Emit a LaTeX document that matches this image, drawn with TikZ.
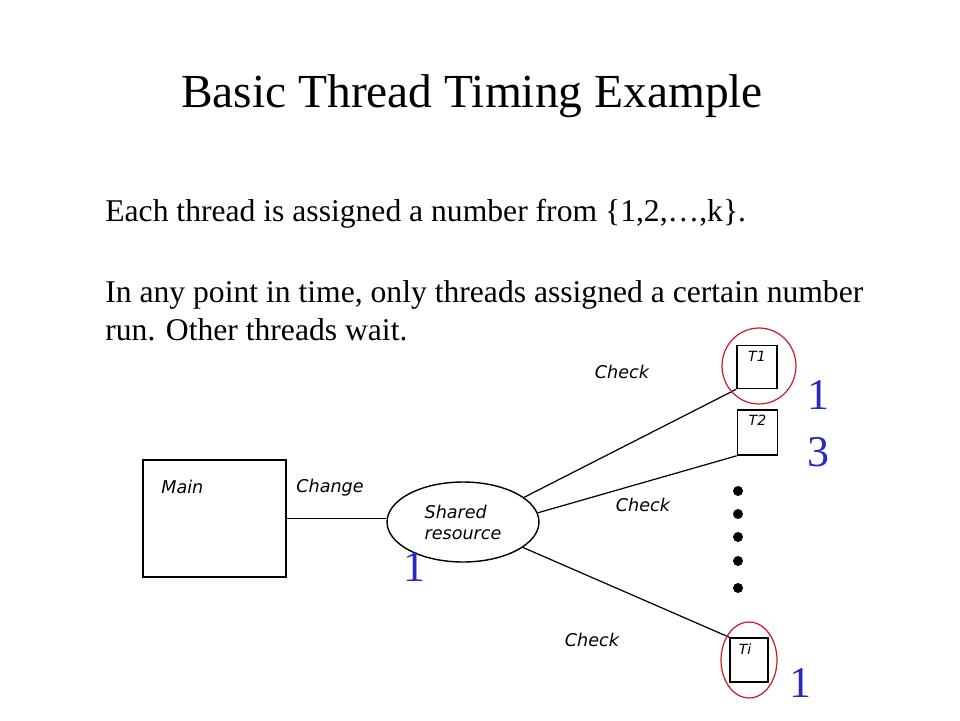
\documentclass[tikz,border=0pt]{standalone}
\usepackage{fontspec}
\setmainfont{Liberation Serif}
\newfontfamily\diagfont{DejaVu Sans}
\usetikzlibrary{shapes.geometric}
\begin{document}
\begin{tikzpicture}[x=0.02cm,y=-0.02cm,
  diaglabel/.style={font=\diagfont\itshape\fontsize{10}{12}\selectfont},
  threadbox/.style={draw, line width=0.9pt, inner sep=0pt, minimum width=0.8cm, minimum height=0.86cm},
  boxlabel/.style={diaglabel, font=\diagfont\itshape\fontsize{8}{9}\selectfont, anchor=north},
  bluenum/.style={text=NumBlue, font=\fontsize{25}{28}\selectfont},
  pick/.style={draw=PickRed, line width=0.7pt}]
\definecolor{NumBlue}{RGB}{40,40,200}
\definecolor{PickRed}{RGB}{200,30,40}
\useasboundingbox (0,0) rectangle (960,720);
% title and text
\node[font=\fontsize{27}{32}\selectfont, anchor=base] (title) at (472,107) {Basic Thread Timing Example};
\node[font=\fontsize{18}{21}\selectfont, anchor=base west, inner sep=0pt] (line1) at (105,221) {Each thread is assigned a number from \{1,2,\dots,k\}.};
\node[font=\fontsize{18}{21.5}\selectfont, anchor=base west, inner sep=0pt, align=left] (line2) at (105,340) {In any point in time, only threads assigned a certain number\\run. Other threads wait.};
% main and shared resource
\node[draw, line width=0.9pt, minimum width=2.86cm, minimum height=2.34cm, inner sep=0pt,
  label={[diaglabel, anchor=north west, xshift=0.26cm, yshift=-0.3cm]north west:Main}] (main) at (214.5,518.5) {};
\node[draw, ellipse, line width=0.8pt, minimum width=3.04cm, minimum height=1.6cm, inner sep=0pt,
  diaglabel, align=left] (shared) at (463,522) {Shared\\resource};
% threads
\node[threadbox, label={[boxlabel]north:T1}] (t1) at (757,367) {};
\node[threadbox, minimum height=0.9cm, label={[boxlabel]north:T2}] (t2) at (757.5,432.5) {};
\node[threadbox, minimum width=0.76cm, minimum height=0.88cm, label={[boxlabel, xshift=-0.08cm]north:Ti}] (ti) at (749,660) {};
\foreach \y [count=\i] in {491,514,537,561,588}
  \fill (738,\y) circle (0.1cm) node (dot\i) {};
% connectors
\draw[line width=0.9pt] (main.east) -- (shared.west |- main.east);
\draw[line width=0.7pt] (shared.22) -- (t1.south west);
\draw[line width=0.7pt] (shared.7) -- (t2.south west);
\draw[line width=0.7pt] (shared.-23) -- (ti.north west);
\node[diaglabel] (change) at (330,488) {Change};
\node[diaglabel] (check1) at (622,372) {Check};
\node[diaglabel] (check2) at (643,505) {Check};
\node[diaglabel] (check3) at (592,640) {Check};
% picked threads
\draw[pick] (759,366) ellipse (0.74cm and 0.76cm);
\draw[pick] (749,660) ellipse (0.56cm and 0.76cm);
\node[bluenum] (numt1) at (818,395) {1};
\node[bluenum] (numt2) at (818,452) {3};
\node[bluenum] (numti) at (800,683) {1};
\node[bluenum] (numres) at (414,567) {1};
\end{tikzpicture}
\end{document}
